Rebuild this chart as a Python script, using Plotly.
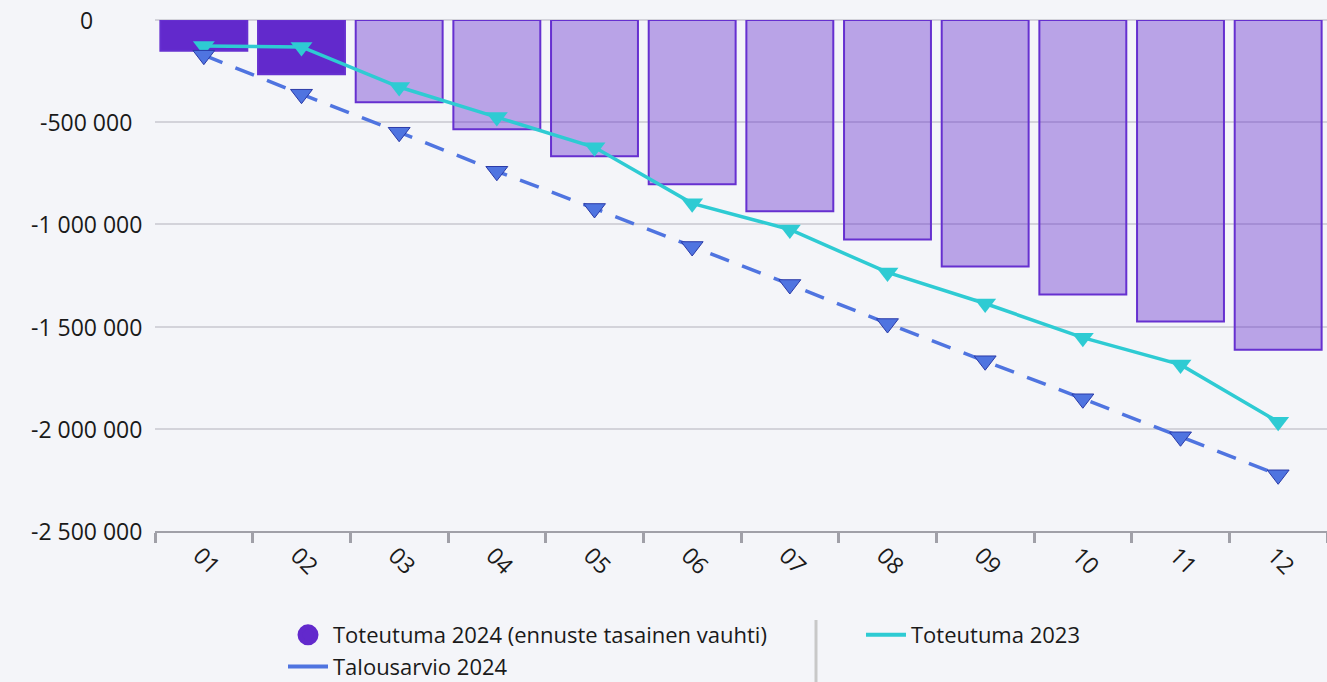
import plotly.graph_objects as go

months = ["01", "02", "03", "04", "05", "06", "07", "08", "09", "10", "11", "12"]
toteutuma_2024 = [-150000, -265000, -402000, -534000, -667000, -804000, -936000,
                  -1074000, -1206000, -1343000, -1475000, -1613000]
n_actual = 2  # months 01-02 actual, rest forecast
toteutuma_2023 = [-127000, -132000, -328000, -475000, -623000, -897000, -1025000,
                  -1235000, -1387000, -1554000, -1686000, -1966000]
talousarvio_2024 = [-172000, -363000, -549000, -740000, -922000, -1108000, -1294000,
                    -1485000, -1667000, -1853000, -2039000, -2225000]
y_tickvals = [0, -500000, -1000000, -1500000, -2000000, -2500000]
y_ticktext = ["0", "-500 000", "-1 000 000", "-1 500 000", "-2 000 000", "-2 500 000"]

names = ["Toteutuma 2024 (ennuste tasainen vauhti)", "Toteutuma 2023", "Talousarvio 2024"]

PURPLE = "#6229CC"
CYAN = "#2ECBD3"
BLUE = "#4F74E0"
BG = "#F4F5F9"
FONT = "Open Sans"
TXT = "#1a1a1a"

bar_colors = [PURPLE if i < n_actual else "rgba(98,41,204,0.40)" for i in range(len(months))]

fig = go.Figure()
fig.add_trace(go.Bar(
    x=months, y=toteutuma_2024, marker=dict(color=bar_colors, line=dict(color="#6630D0", width=2)),
    showlegend=False, name=names[0]))
fig.add_trace(go.Scatter(
    x=months, y=toteutuma_2023, mode="lines+markers", showlegend=False, name=names[1],
    line=dict(color=CYAN, width=3.5),
    marker=dict(symbol="triangle-down", size=19, color=CYAN)))
fig.add_trace(go.Scatter(
    x=months, y=talousarvio_2024, mode="lines+markers", showlegend=False, name=names[2],
    line=dict(color=BLUE, width=3.5, dash="20px,14px"),
    marker=dict(symbol="triangle-down", size=19, color=BLUE, line=dict(color="#2A3AA8", width=1))))

# legend-only entries
fig.add_trace(go.Scatter(x=[None], y=[None], mode="markers", name=names[0], legend="legend",
                         marker=dict(symbol="circle", size=16, color=PURPLE,
                                     line=dict(color=PURPLE, width=5))))
fig.add_trace(go.Scatter(x=[None], y=[None], mode="lines", name=names[2], legend="legend",
                         line=dict(color=BLUE, width=4)))
fig.add_trace(go.Scatter(x=[None], y=[None], mode="lines", name=names[1], legend="legend2",
                         line=dict(color=CYAN, width=4)))

L, R, T, B = 155, 0, 20, 151
W, H = 1327, 682
pw = W - L - R
ph = H - T - B

for v, t in zip(y_tickvals, y_ticktext):
    fig.add_annotation(x=(86 - L) / pw, xref="paper", y=v, yref="y", text=t,
                       showarrow=False, xanchor="center", yanchor="middle",
                       font=dict(family=FONT, size=23, color=TXT))

fig.add_shape(type="line", xref="paper", yref="paper",
              x0=(816 - L) / pw, x1=(816 - L) / pw,
              y0=(H - B - 620) / ph, y1=(H - B - 690) / ph,
              line=dict(color="#C8C8C8", width=3))

leg_common = dict(orientation="v", xanchor="left", yanchor="top",
                  y=(H - B - 614) / ph, itemwidth=40,
                  font=dict(family=FONT, size=22, color=TXT),
                  bgcolor="rgba(0,0,0,0)", borderwidth=0)

fig.update_layout(
    width=W, height=H,
    margin=dict(l=L, r=R, t=T, b=B, autoexpand=False),
    paper_bgcolor=BG, plot_bgcolor=BG,
    font=dict(family=FONT, size=22, color=TXT),
    bargap=0.11,
    legend=dict(x=(283 - L) / pw, **leg_common),
    legend2=dict(x=(861 - L) / pw, **leg_common),
    xaxis=dict(type="category", range=[-0.5, len(months) - 0.5], tickangle=45,
               tickson="boundaries",
               ticks="outside", ticklen=10, tickwidth=3, tickcolor="#A0A0A8",
               showline=True, linecolor="#A0A0A8", linewidth=2,
               showgrid=False, ticklabelshift=-4, automargin=False,
               tickfont=dict(family=FONT, size=23, color=TXT)),
    yaxis=dict(range=[-2500000, 0], tickvals=y_tickvals, showticklabels=False,
               showgrid=True, gridcolor="#D3D3DA", gridwidth=2, automargin=False,
               zeroline=True, zerolinecolor="#D3D3DA", zerolinewidth=2),
)

fig.write_html("out.html", config={"displayModeBar": False},
               post_script="document.body.style.margin='0';document.body.style.overflow='hidden';")
